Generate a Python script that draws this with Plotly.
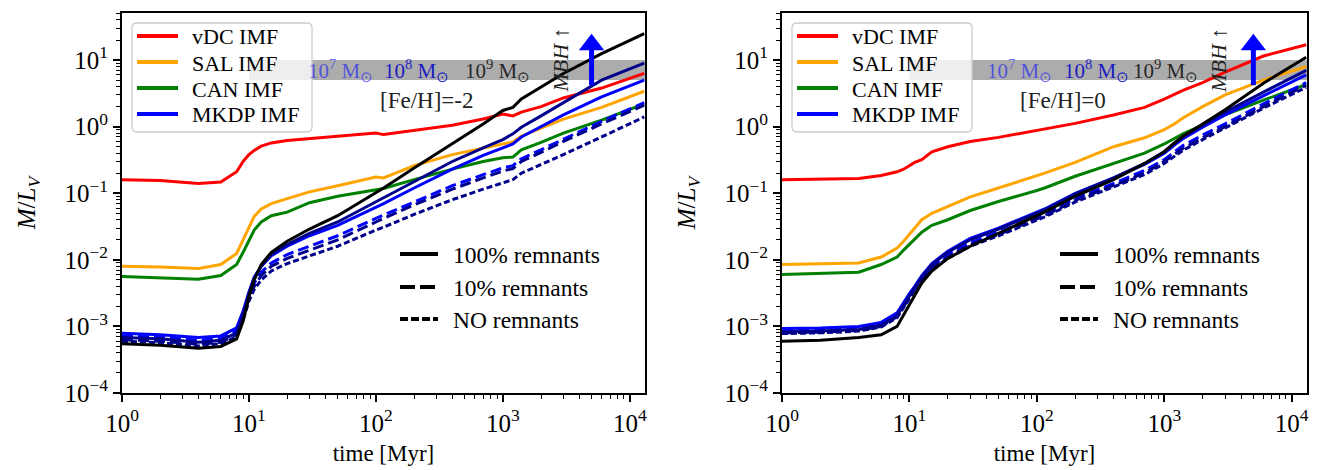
import numpy as np
import plotly.graph_objects as go

# Ages at which the mass-to-light ratios are tabulated [Myr]
time_myr = [1, 2, 4, 6, 8, 9, 10, 11, 12.5, 15, 20, 30, 50, 100, 115, 200,
            400, 700, 1000, 1200, 1400, 2000, 3000, 6000, 13000]

# ---- [Fe/H] = -2 -------------------------------------------------------
m2_vdc_full = [0.16, 0.155, 0.14, 0.148, 0.21, 0.3, 0.38, 0.44, 0.51, 0.57, 0.62, 0.66, 0.71,
               0.8, 0.76, 0.88, 1.05, 1.3, 1.55, 1.45, 1.65, 2.0, 2.7, 3.8, 6.3]
m2_sal_full = [0.008, 0.0078, 0.0074, 0.0085, 0.0125, 0.02, 0.032, 0.045, 0.058, 0.07, 0.083,
               0.105, 0.13, 0.175, 0.17, 0.26, 0.38, 0.48, 0.56, 0.59, 0.72, 0.95, 1.3, 1.95, 3.4]
m2_can_full = [0.0056, 0.0054, 0.0051, 0.0058, 0.0085, 0.013, 0.02, 0.028, 0.037, 0.046, 0.052,
               0.072, 0.09, 0.115, 0.118, 0.16, 0.23, 0.3, 0.34, 0.35, 0.45, 0.58, 0.8, 1.25, 2.2]
m2_mkdp_full = [7.9e-4, 7.5e-4, 6.8e-4, 7.2e-4, 9.5e-4, 1.7e-3, 3.3e-3, 5.5e-3, 8e-3, 1.15e-2,
                1.6e-2, 2.3e-2, 3.3e-2, 0.062, 0.07, 0.12, 0.23, 0.37, 0.48, 0.55, 0.7, 1.0, 1.5,
                2.8, 5.0]
m2_mkdp_10 = [7.2e-4, 6.9e-4, 6.2e-4, 6.6e-4, 8.5e-4, 1.5e-3, 2.9e-3, 4.5e-3, 6.5e-3, 9e-3,
              1.2e-2, 1.6e-2, 2.3e-2, 0.042, 0.047, 0.075, 0.13, 0.19, 0.24, 0.26, 0.33, 0.45,
              0.65, 1.2, 2.3]
m2_mkdp2_full = [6.8e-4, 6.5e-4, 5.8e-4, 6.2e-4, 8e-4, 1.5e-3, 3.1e-3, 5.3e-3, 8e-3, 1.2e-2,
                 1.7e-2, 2.5e-2, 3.7e-2, 0.075, 0.085, 0.15, 0.3, 0.48, 0.64, 0.78, 0.98, 1.45,
                 2.3, 5.0, 9.0]
m2_mkdp2_10 = [6.3e-4, 6e-4, 5.4e-4, 5.8e-4, 7.5e-4, 1.35e-3, 2.6e-3, 4e-3, 5.8e-3, 8e-3,
               1.05e-2, 1.4e-2, 2e-2, 0.037, 0.042, 0.067, 0.115, 0.17, 0.215, 0.235, 0.3, 0.41,
               0.6, 1.1, 2.1]
m2_mkdp2_none = [6e-4, 5.7e-4, 5.1e-4, 5.5e-4, 7e-4, 1.25e-3, 2.4e-3, 3.6e-3, 5e-3, 6.8e-3,
                 8.8e-3, 1.15e-2, 1.6e-2, 0.028, 0.031, 0.048, 0.08, 0.115, 0.145, 0.16, 0.2,
                 0.27, 0.38, 0.7, 1.4]
m2_topheavy_full = [5.5e-4, 5.2e-4, 4.7e-4, 5e-4, 6.5e-4, 1.2e-3, 2.8e-3, 5e-3, 8.5e-3, 1.3e-2,
                    1.9e-2, 2.9e-2, 4.6e-2, 0.1, 0.12, 0.24, 0.55, 1.1, 1.75, 1.95, 2.6, 3.9,
                    6.3, 12.5, 25.0]

# ---- [Fe/H] = 0 --------------------------------------------------------
z0_vdc_full = [0.16, 0.163, 0.166, 0.185, 0.21, 0.23, 0.26, 0.29, 0.32, 0.42, 0.5, 0.6, 0.69,
               0.88, 0.93, 1.12, 1.5, 1.95, 2.6, 3.1, 3.5, 4.6, 6.6, 11.5, 17.0]
z0_sal_full = [0.0085, 0.0087, 0.009, 0.011, 0.015, 0.019, 0.024, 0.03, 0.04, 0.05, 0.063,
               0.088, 0.12, 0.18, 0.2, 0.29, 0.5, 0.68, 0.9, 1.1, 1.35, 2.0, 3.0, 5.0, 8.0]
z0_can_full = [0.006, 0.0062, 0.0065, 0.0085, 0.011, 0.014, 0.017, 0.021, 0.026, 0.033, 0.04,
               0.055, 0.075, 0.11, 0.12, 0.18, 0.28, 0.4, 0.55, 0.66, 0.78, 1.05, 1.5, 2.5, 4.3]
z0_mkdp_full = [9.3e-4, 9.5e-4, 1e-3, 1.15e-3, 1.6e-3, 2.3e-3, 3.1e-3, 4e-3, 5.8e-3, 8.8e-3,
                0.0135, 0.021, 0.03, 0.052, 0.058, 0.1, 0.17, 0.27, 0.4, 0.53, 0.66, 0.98, 1.5,
                2.9, 6.0]
z0_mkdp_10 = [8.8e-4, 9e-4, 9.5e-4, 1.1e-3, 1.5e-3, 2.2e-3, 3e-3, 3.8e-3, 5.4e-3, 8e-3, 0.012,
              0.018, 0.026, 0.044, 0.049, 0.083, 0.14, 0.22, 0.32, 0.42, 0.52, 0.75, 1.1, 2.2,
              4.6]
z0_mkdp2_full = [8.3e-4, 8.5e-4, 9e-4, 1.05e-3, 1.45e-3, 2.1e-3, 2.9e-3, 3.8e-3, 5.5e-3, 8.5e-3,
                 0.013, 0.02, 0.029, 0.05, 0.056, 0.097, 0.17, 0.28, 0.42, 0.56, 0.7, 1.05, 1.65,
                 3.3, 7.0]
z0_mkdp2_10 = [8e-4, 8.2e-4, 8.7e-4, 1e-3, 1.4e-3, 2e-3, 2.8e-3, 3.6e-3, 5.1e-3, 7.5e-3, 0.011,
               0.017, 0.024, 0.041, 0.046, 0.078, 0.13, 0.2, 0.3, 0.38, 0.47, 0.68, 1.0, 2.0, 4.2]
z0_mkdp2_none = [7.8e-4, 8e-4, 8.5e-4, 9.8e-4, 1.35e-3, 1.9e-3, 2.7e-3, 3.5e-3, 4.9e-3, 7.2e-3,
                 0.0105, 0.016, 0.023, 0.039, 0.044, 0.074, 0.125, 0.19, 0.28, 0.36, 0.44, 0.64,
                 0.95, 1.9, 3.9]
z0_topheavy_full = [6e-4, 6.2e-4, 6.8e-4, 7.5e-4, 1e-3, 1.5e-3, 2.2e-3, 3e-3, 4.5e-3, 6.8e-3,
                    0.0105, 0.016, 0.025, 0.046, 0.052, 0.09, 0.16, 0.28, 0.42, 0.57, 0.72, 1.1,
                    1.8, 4.5, 11.0]

imf_names = ["vDC IMF", "SAL IMF", "CAN IMF", "MKDP IMF"]
imf_colors = ["#ff0000", "#ffa500", "#008000", "#0000ff"]
remnant_names = ["100% remnants", "10% remnants", "NO remnants"]
panel_labels = ["[Fe/H]=-2", "[Fe/H]=0"]
mass_labels = ["10<sup>7</sup> M<sub>⊙</sub>", "10<sup>8</sup> M<sub>⊙</sub>",
               "10<sup>9</sup> M<sub>⊙</sub>"]
x_ticks = [1, 10, 100, 1000, 10000]
x_ticktext = ["10<sup>0</sup>", "10<sup>1</sup>", "10<sup>2</sup>", "10<sup>3</sup>",
              "10<sup>4</sup>"]
y_ticks = [1e-4, 1e-3, 1e-2, 1e-1, 1, 10]
y_ticktext = ["10<sup>−4</sup>", "10<sup>−3</sup>", "10<sup>−2</sup>", "10<sup>−1</sup>",
              "10<sup>0</sup>", "10<sup>1</sup>"]
band_low, band_high = 5.0, 10.0      # shaded M_BH band
band_start = 10.0                    # Myr
arrow_time, arrow_low, arrow_head = 5000.0, 4.2, 17.0

NAVY = "#00008b"
ARROW_BLUE = "#0000ff"
FONT = "Liberation Serif"
DASH = "11px,5px"
DOT = "6px,3px"
LW = 3

W, H = 1317, 470


def px(x):
    return x / W


def py(y):
    return 1 - y / H


panels = [
    dict(series=[(m2_vdc_full, imf_colors[0], "solid"),
                 (m2_sal_full, imf_colors[1], "solid"),
                 (m2_can_full, imf_colors[2], "solid"),
                 (m2_mkdp_full, imf_colors[3], "solid"),
                 (m2_mkdp_10, imf_colors[3], DASH),
                 (m2_mkdp2_10, NAVY, DASH),
                 (m2_mkdp2_none, NAVY, DOT),
                 (m2_mkdp2_full, NAVY, "solid"),
                 (m2_topheavy_full, "black", "solid")],
         mass_x=[1.719, 2.319, 2.957], label_x=2.397, mbh_x=3.454),
    dict(series=[(z0_vdc_full, imf_colors[0], "solid"),
                 (z0_sal_full, imf_colors[1], "solid"),
                 (z0_can_full, imf_colors[2], "solid"),
                 (z0_mkdp_10, imf_colors[3], DASH),
                 (z0_mkdp2_10, NAVY, DASH),
                 (z0_mkdp2_none, NAVY, DOT),
                 (z0_mkdp_full, imf_colors[3], "solid"),
                 (z0_mkdp2_full, NAVY, "solid"),
                 (z0_topheavy_full, "black", "solid")],
         mass_x=[1.867, 2.471, 3.012], label_x=2.204, mbh_x=3.42),
]

panel_left_px = [122, 782]
panel_width_px = [523, 525]
x_domains = [[px(l), px(l + w)] for l, w in zip(panel_left_px, panel_width_px)]
y_domain = [py(393), py(13)]
x_range = [0, 4.12]
y_range = [-4, 1.707]
mass_colors = ["rgba(0,0,255,0.55)", "rgba(0,0,200,0.85)", "rgba(0,0,0,0.8)"]

minor_vals = [m * 10.0 ** e for e in range(-5, 5) for m in range(2, 10)]

fig = go.Figure()
annotations = []
shapes = []


def rounded_box(x0, y0, x1, y1, r):
    X0, X1 = px(x0), px(x1)
    Y0, Y1 = py(y0), py(y1)
    rx, ry = r / W, r / H
    return (f"M {X0 + rx},{Y0} L {X1 - rx},{Y0} Q {X1},{Y0} {X1},{Y0 - ry} "
            f"L {X1},{Y1 + ry} Q {X1},{Y1} {X1 - rx},{Y1} L {X0 + rx},{Y1} "
            f"Q {X0},{Y1} {X0},{Y1 + ry} L {X0},{Y0 - ry} Q {X0},{Y0} {X0 + rx},{Y0} Z")


for p, panel in enumerate(panels):
    xa = "x" if p == 0 else "x2"
    ya = "y" if p == 0 else "y2"
    off = panel_left_px[p] - panel_left_px[0]

    for values, color, dash in panel["series"]:
        fig.add_trace(go.Scatter(x=time_myr, y=values, mode="lines",
                                 line=dict(color=color, width=LW, dash=dash),
                                 showlegend=False, xaxis=xa, yaxis=ya,
                                 hoverinfo="skip"))

    # upward arrow: M_BH grows beyond the band
    fig.add_trace(go.Scatter(x=[arrow_time, arrow_time], y=[arrow_low, arrow_head],
                             mode="lines", line=dict(color=ARROW_BLUE, width=5),
                             showlegend=False, xaxis=xa, yaxis=ya, hoverinfo="skip"))
    fig.add_trace(go.Scatter(x=[arrow_time], y=[arrow_head], mode="markers",
                             marker=dict(symbol="triangle-up", size=22, color=ARROW_BLUE,
                                         line=dict(width=0)),
                             showlegend=False, xaxis=xa, yaxis=ya, hoverinfo="skip"))

    # grey band marking the black-hole mass range
    shapes.append(dict(type="rect", xref=xa, yref=ya, x0=band_start, x1=10 ** x_range[1],
                       y0=band_low, y1=band_high, fillcolor="rgba(128,128,128,0.65)",
                       line=dict(width=0), layer="below"))

    # IMF colour key
    shapes.append(dict(type="path", xref="paper", yref="paper",
                       path=rounded_box(132 + off, 23, 312 + off, 132, 5),
                       fillcolor="rgba(255,255,255,0.8)",
                       line=dict(color="#cccccc", width=1.3), layer="above"))
    for k, (name, color) in enumerate(zip(imf_names, imf_colors)):
        yk = 36 + 26 * k
        shapes.append(dict(type="line", xref="paper", yref="paper",
                           x0=px(137 + off), x1=px(178 + off), y0=py(yk), y1=py(yk),
                           line=dict(color=color, width=4), layer="above"))
        annotations.append(dict(xref="paper", yref="paper", x=px(190 + off), y=py(yk + 1),
                                xanchor="left", yanchor="middle", text=name,
                                showarrow=False,
                                font=dict(family=FONT, size=22, color="black")))

    # remnant line-style key
    for k, (name, dash) in enumerate(zip(remnant_names,
                                         ["solid", "15px,5px", "8px,3px"])):
        yk = [254, 287, 319][k]
        shapes.append(dict(type="line", xref="paper", yref="paper",
                           x0=px(400 + off), x1=px(438 + off), y0=py(yk), y1=py(yk),
                           line=dict(color="black", width=4, dash=dash), layer="above"))
        annotations.append(dict(xref="paper", yref="paper", x=px(451 + off), y=py(yk + 1),
                                xanchor="left", yanchor="middle", text=name,
                                showarrow=False,
                                font=dict(family=FONT, size=23.5, color="black")))

    for txt, xv, col in zip(mass_labels, panel["mass_x"], mass_colors):
        annotations.append(dict(xref=xa, yref=ya, x=xv, y=0.85, text=txt, showarrow=False,
                                font=dict(family=FONT, size=21, color=col)))
    annotations.append(dict(xref=xa, yref=ya, x=panel["label_x"], y=0.398,
                            text=panel_labels[p], showarrow=False,
                            font=dict(family=FONT, size=23, color="#222222")))
    annotations.append(dict(xref=xa, yref=ya, x=panel["mbh_x"], y=1.0,
                            text="<i>MBH</i> ↑", textangle=-90, showarrow=False,
                            font=dict(family=FONT, size=22, color="#222222")))

axis_common = dict(type="log", showgrid=False, zeroline=False, showline=True,
                   linecolor="black", linewidth=1.8, mirror=True, ticks="outside",
                   ticklen=7, tickwidth=1.5, tickcolor="black", automargin=False,
                   tickfont=dict(family=FONT, size=25, color="black"),
                   minor=dict(tickmode="array", tickvals=minor_vals, ticks="outside",
                              ticklen=4, tickwidth=1, tickcolor="black", showgrid=False))

layout = dict(width=W, height=H, margin=dict(l=0, r=0, t=0, b=0, autoexpand=False),
              paper_bgcolor="white", plot_bgcolor="white", showlegend=False,
              font=dict(family=FONT, size=22, color="black"),
              shapes=shapes, annotations=annotations)

for p in range(2):
    xk = "xaxis" if p == 0 else "xaxis2"
    yk = "yaxis" if p == 0 else "yaxis2"
    layout[xk] = dict(axis_common, domain=x_domains[p], range=x_range, tickmode="array",
                      tickvals=x_ticks, ticktext=x_ticktext, anchor="y" if p == 0 else "y2",
                      title=dict(text="time [Myr]", standoff=9,
                                 font=dict(family=FONT, size=23)))
    layout[yk] = dict(axis_common, domain=y_domain, range=y_range, tickmode="array",
                      tickvals=y_ticks, ticktext=y_ticktext, anchor="x" if p == 0 else "x2",
                      title=dict(text="<i>M</i>/<i>L</i><sub><i>V</i></sub>", standoff=22,
                                 font=dict(family=FONT, size=25)))

fig.update_layout(**layout)
fig.write_html("out.html")
